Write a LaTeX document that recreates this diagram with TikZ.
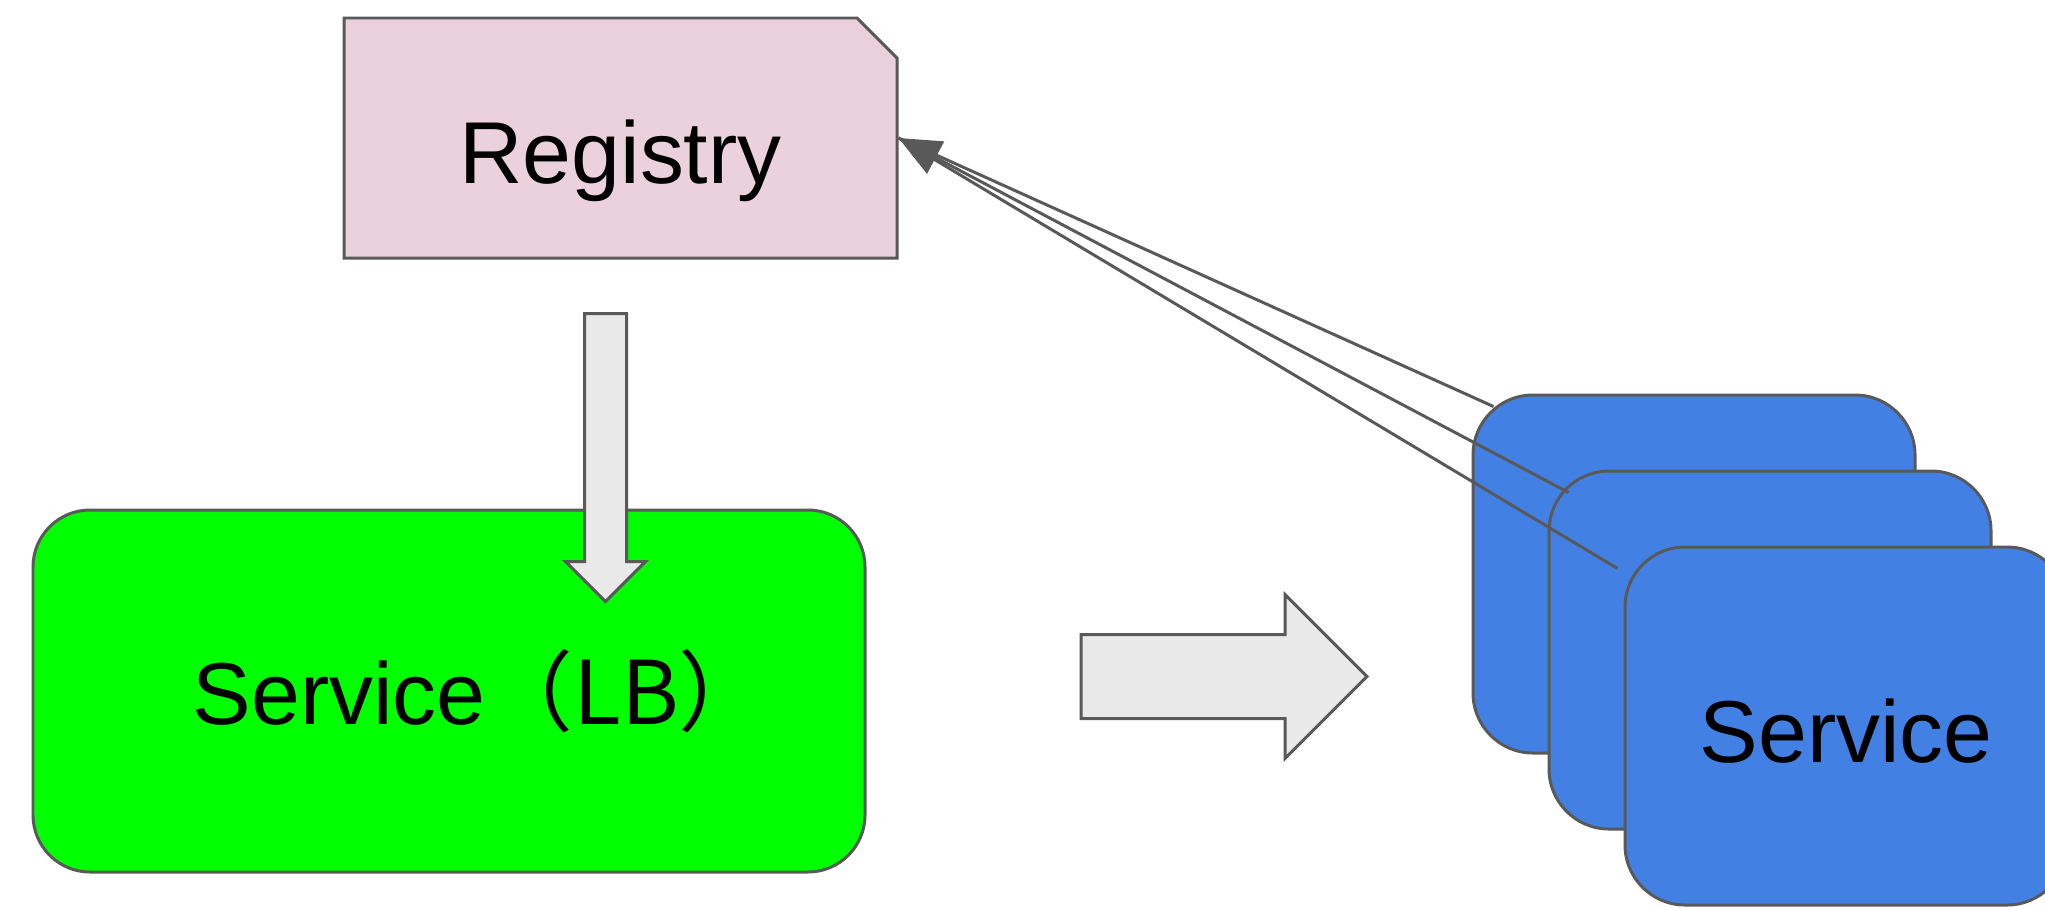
\documentclass[tikz,border=0pt]{standalone}
\usepackage{fontspec}
\setmainfont{Liberation Sans}
\newfontfamily\cjk{Noto Sans CJK SC}
\usetikzlibrary{arrows.meta,positioning,shapes.misc,shapes.arrows}
\definecolor{linegray}{RGB}{89,89,89}
\definecolor{regcolor}{RGB}{234,209,220}
\definecolor{lbcolor}{RGB}{0,255,0}
\definecolor{svccolor}{RGB}{67,128,228}
\definecolor{blockcolor}{RGB}{233,233,233}

\begin{document}
\begin{tikzpicture}[node distance=0.76cm, on grid, >={Triangle[length=0.42cm,width=0.36cm]},
    every node/.style={font=\fontsize{25}{30}\selectfont},
    box/.style={draw=linegray, line width=0.85pt},
    service/.style={box, rounded corners=0.6cm, fill=svccolor, minimum width=4.42cm, minimum height=3.58cm,
        text height=0.72cm, text depth=0pt},
    block/.style={box, fill=blockcolor, single arrow, inner xsep=0pt}]
    \useasboundingbox (0,0) rectangle (20.45,9.08);

    \node[box, chamfered rectangle, chamfered rectangle corners=north east, chamfered rectangle xsep=0.2cm,
        chamfered rectangle ysep=0.2cm, fill=regcolor, minimum width=5.53cm, minimum height=2.4cm,
        text height=0.9cm, text depth=0pt] (reg) at (6.205,7.70) {Registry};
    \node[box, rounded corners=0.57cm, fill=lbcolor, minimum width=8.32cm, minimum height=3.62cm,
        text height=0.66cm, text depth=0pt] (lb) at (4.49,2.17)
        {Service\cjk{（}LB\makebox[0.3em][l]{\cjk{）}}};

    % stacked service copies
    \node[service] (svcA) at (16.94,3.34) {};
    \node[service, below right=0.76cm and 0.76cm of svcA] (svcB) {};
    \node[service, below right=0.76cm and 0.76cm of svcB] (svcC) {Service};

    \node[block, rotate=-90, minimum height=2.88cm, inner ysep=0.195cm, single arrow head extend=0.19cm] (down) at (6.055,4.61) {};
    \node[block, minimum height=2.86cm, inner ysep=0.405cm, single arrow head extend=0.4cm] (right) at (12.03,2.315) {};

    \draw[box] ([shift={(0.22,-0.13)}]svcA.north west) -- (reg.east);
    \draw[box,->] ([shift={(0.21,-0.23)}]svcB.north west) -- (reg.east);
    \draw[box] ([shift={(-0.06,-0.23)}]svcC.north west) -- (reg.east);
\end{tikzpicture}
\end{document}
